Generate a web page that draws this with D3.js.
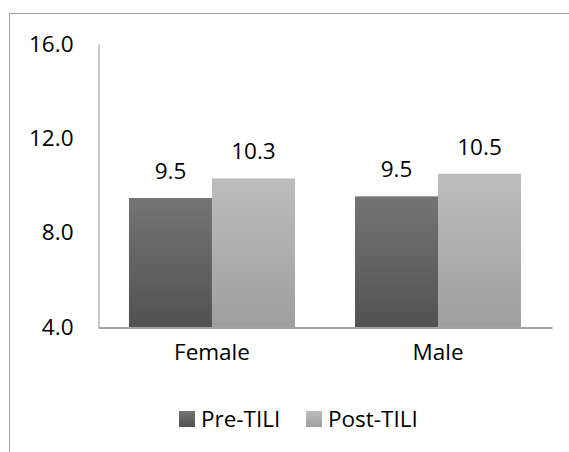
<!DOCTYPE html>
<html>
<head>
<meta charset="utf-8">
<script src="https://cdn.jsdelivr.net/npm/d3@7"></script>
<style>
  html, body { margin: 0; padding: 0; background: #fff; }
  svg { display: block; font-family: "Open Sans", "Noto Sans", sans-serif; }
</style>
</head>
<body>
<svg id="chart" width="569" height="452"></svg>
<script>
const categories = ["Female", "Male"];
const seriesNames = ["Pre-TILI", "Post-TILI"];
const preValues = [9.47, 9.54];
const postValues = [10.3, 10.5];
const yTicks = [4, 8, 12, 16];

const svg = d3.select("#chart");
const W = 569, H = 452;
const fontSize = 22.5;

// chart border (cropped on right/bottom)
svg.append("rect")
  .attr("x", 9.5).attr("y", 13.5)
  .attr("width", W + 20).attr("height", H + 20)
  .attr("fill", "none").attr("stroke", "#a0a0a0").attr("stroke-width", 1);

const defs = svg.append("defs");
const grads = [
  { id: "gPre", top: "#747474", bottom: "#525252" },
  { id: "gPost", top: "#bdbdbd", bottom: "#9f9f9f" }
];
grads.forEach(g => {
  const lg = defs.append("linearGradient").attr("id", g.id)
    .attr("x1", 0).attr("y1", 0).attr("x2", 0).attr("y2", 1);
  lg.append("stop").attr("offset", "0%").attr("stop-color", g.top);
  lg.append("stop").attr("offset", "100%").attr("stop-color", g.bottom);
});

const x0 = d3.scaleBand().domain(categories).range([98, 552])
  .paddingInner(0.2655).paddingOuter(0.137);
const x1 = d3.scaleBand().domain(seriesNames).range([0, x0.bandwidth()]).padding(0);
const y = d3.scaleLinear().domain([4, 16]).range([327, 44]);

// y axis
const yAxis = svg.append("g").attr("transform", "translate(98.5,0)")
  .call(d3.axisLeft(y).tickValues(yTicks).tickSize(0).tickSizeOuter(0)
    .tickPadding(25).tickFormat(d3.format(".1f")));
yAxis.select(".domain").attr("stroke", "#a6a6a6").attr("stroke-width", 1.2);
yAxis.selectAll("text").attr("font-size", fontSize).attr("fill", "#000")
  .attr("font-family", "'Open Sans', sans-serif");

// bars
const rows = categories.map((c, i) => ({ cat: c, vals: [preValues[i], postValues[i]] }));
const groups = svg.append("g").selectAll("g").data(rows).join("g")
  .attr("transform", d => `translate(${x0(d.cat)},0)`);
groups.selectAll("rect").data(d => d.vals.map((v, j) => ({ v, s: seriesNames[j], j })))
  .join("rect")
  .attr("x", d => x1(d.s))
  .attr("width", x1.bandwidth())
  .attr("y", d => y(d.v))
  .attr("height", d => y(4) - y(d.v))
  .attr("fill", d => d.j === 0 ? "url(#gPre)" : "url(#gPost)");
groups.selectAll("text").data(d => d.vals.map((v, j) => ({ v, s: seriesNames[j] })))
  .join("text")
  .attr("x", d => x1(d.s) + x1.bandwidth() / 2)
  .attr("y", d => y(d.v) - 19)
  .attr("text-anchor", "middle")
  .attr("font-size", fontSize)
  .attr("fill", "#000")
  .text(d => d3.format(".1f")(d.v));

// x axis
const xAxis = svg.append("g").attr("transform", "translate(0,327.5)")
  .call(d3.axisBottom(x0).tickSize(0).tickSizeOuter(0).tickPadding(17));
xAxis.select(".domain").attr("stroke", "#868686").attr("stroke-width", 1.5);
xAxis.selectAll("text").attr("font-size", fontSize).attr("fill", "#000")
  .attr("font-family", "'Open Sans', sans-serif");

// legend
const legendX = [179, 306];
const leg = svg.append("g").selectAll("g").data(seriesNames).join("g")
  .attr("transform", (d, i) => `translate(${legendX[i]},411)`);
leg.append("rect").attr("width", 16).attr("height", 16)
  .attr("fill", (d, i) => i === 0 ? "url(#gPre)" : "url(#gPost)");
leg.append("text").attr("x", 22).attr("y", 15.5)
  .attr("font-size", fontSize).attr("fill", "#000")
  .text(d => d);
</script>
</body>
</html>
